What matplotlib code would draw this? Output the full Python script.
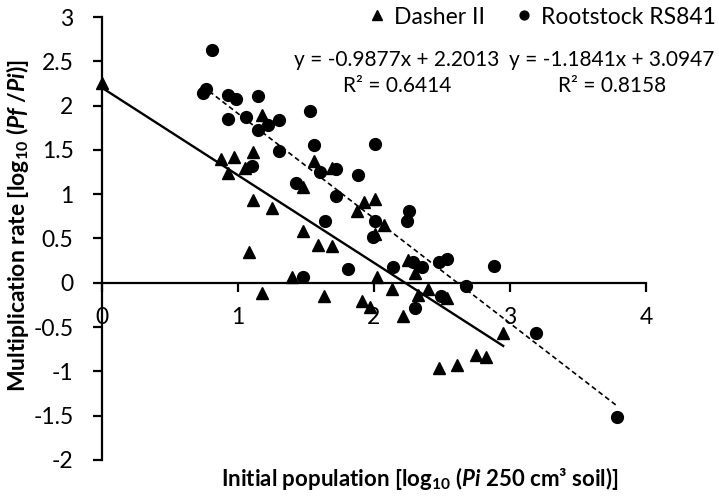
import matplotlib
matplotlib.use("Agg")
import matplotlib.pyplot as plt
from matplotlib.ticker import MultipleLocator, FuncFormatter
import numpy as np

# Font settings (Calibri-like look)
plt.rcParams["font.family"] = ["Lato", "DejaVu Sans"]
plt.rcParams["mathtext.fontset"] = "custom"
plt.rcParams["mathtext.rm"] = "Lato:bold"
plt.rcParams["mathtext.it"] = "Lato:italic:bold"
plt.rcParams["mathtext.bf"] = "Lato:bold"

# Data
dasher_x = [0.00, 0.875, 0.97, 1.11, 0.93, 1.05, 1.18, 1.11, 1.25, 1.48, 1.56, 1.69,
            1.48, 1.59, 1.69, 1.875, 1.93, 2.01, 2.07, 2.01, 1.08, 1.18, 1.40, 1.63,
            1.91, 1.97, 2.02, 2.13, 2.21, 2.32, 2.25, 2.30, 2.40, 2.54, 2.95, 2.75,
            2.82, 2.48, 2.61]
dasher_y = [2.25, 1.40, 1.42, 1.48, 1.24, 1.30, 1.89, 0.94, 0.84, 1.08, 1.37, 1.30,
            0.59, 0.43, 0.42, 0.81, 0.91, 0.95, 0.65, 0.55, 0.35, -0.11, 0.07, -0.15,
            -0.21, -0.27, 0.06, -0.07, -0.38, -0.14, 0.26, 0.11, -0.07, -0.17, -0.57,
            -0.82, -0.84, -0.96, -0.93]

rootstock_x = [0.81, 0.765, 0.74, 0.93, 0.985, 1.15, 0.93, 1.06, 1.30, 1.15, 1.22,
               1.53, 1.30, 1.56, 2.01, 1.10, 1.60, 1.72, 1.43, 1.88, 1.72, 1.64,
               2.01, 1.99, 2.26, 2.24, 1.81, 1.48, 2.14, 2.29, 2.35, 2.48, 2.54,
               2.88, 2.68, 2.49, 2.30, 3.19, 3.79]
rootstock_y = [2.63, 2.19, 2.14, 2.12, 2.07, 2.11, 1.85, 1.87, 1.84, 1.73, 1.78,
               1.94, 1.49, 1.56, 1.57, 1.32, 1.25, 1.29, 1.13, 1.22, 0.98, 0.70,
               0.70, 0.52, 0.81, 0.70, 0.16, 0.06, 0.18, 0.24, 0.18, 0.23, 0.27,
               0.19, -0.04, -0.15, -0.28, -0.57, -1.51]

# Trendline equations shown on the chart
dasher_fit = (-0.9877, 2.2013, 0.6414)
rootstock_fit = (-1.1841, 3.0947, 0.8158)

fig = plt.figure(figsize=(7.19, 5.01), dpi=100)
ax = fig.add_axes([102 / 719, 41 / 501, 544 / 719, 443 / 501])

ax.plot(dasher_x, dasher_y, linestyle="none", marker="^", markersize=9,
        color="black", label="Dasher II", clip_on=False)
ax.plot(rootstock_x, rootstock_y, linestyle="none", marker="o", markersize=8.5,
        color="black", label="Rootstock RS841", clip_on=False)

# trendlines over each series' x range
xs = np.array([min(dasher_x), max(dasher_x)])
ax.plot(xs, dasher_fit[0] * xs + dasher_fit[1], color="black", lw=1.7)
xs = np.array([min(rootstock_x), max(rootstock_x)])
ax.plot(xs, rootstock_fit[0] * xs + rootstock_fit[1], color="black", lw=1.2,
        linestyle=(0, (3, 2)))

ax.set_xlim(0, 4)
ax.set_ylim(-2, 3)
ax.xaxis.set_major_locator(MultipleLocator(1))
ax.yaxis.set_major_locator(MultipleLocator(0.5))
ax.yaxis.set_major_formatter(FuncFormatter(lambda v, p: f"{v:g}"))
ax.xaxis.set_major_formatter(FuncFormatter(lambda v, p: f"{v:g}"))

ax.spines["top"].set_visible(False)
ax.spines["right"].set_visible(False)
ax.spines["bottom"].set_position(("data", 0))
for s in ["left", "bottom"]:
    ax.spines[s].set_linewidth(1.6)
ax.tick_params(axis="both", direction="out", length=6.5, width=1.6, labelsize=16.5)
ax.tick_params(axis="x", pad=11)
ax.tick_params(axis="y", pad=14)

leg = ax.legend(loc="center", bbox_to_anchor=(543 / 719, 1 - 17 / 501),
                bbox_transform=fig.transFigure, ncol=2, frameon=False,
                fontsize=16.5, handlelength=0.6, handletextpad=0.45,
                columnspacing=1.4, borderpad=0, markerscale=0.75)

fig.text(397 / 719, 1 - 50 / 501, "y = -0.9877x + 2.2013\nR² = 0.6414",
         ha="center", va="top", fontsize=15, multialignment="center",
         linespacing=1.4)
fig.text(612 / 719, 1 - 50 / 501, "y = -1.1841x + 3.0947\nR² = 0.8158",
         ha="center", va="top", fontsize=15, multialignment="center",
         linespacing=1.4)

fig.text(18 / 719, 1 - 226 / 501, r"Multiplication rate [log$_{10}$ ($Pf$ /$Pi$)]",
         rotation=90, ha="center", va="center", fontsize=16.5, fontweight="bold")
fig.text(420 / 719, 1 - 478 / 501, r"Initial population [log$_{10}$ ($Pi$ 250 cm³ soil)]",
         ha="center", va="center", fontsize=16, fontweight="bold")

fig.savefig("out.png", dpi=100)
